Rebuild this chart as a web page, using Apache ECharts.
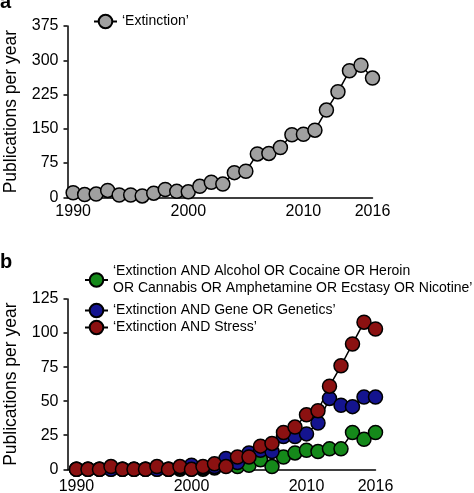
<!DOCTYPE html>
<html>
<head>
<meta charset="utf-8">
<script src="https://cdn.jsdelivr.net/npm/echarts@6/dist/echarts.min.js"></script>
<style>
html,body{margin:0;padding:0;background:#fff;}
#c{width:474px;height:493px;}
</style>
</head>
<body>
<div id="c"></div>
<script>
// ---- data ----
var years = [1990,1991,1992,1993,1994,1995,1996,1997,1998,1999,2000,2001,2002,2003,2004,2005,2006,2007,2008,2009,2010,2011,2012,2013,2014,2015,2016];
var extinction = [10,6,7,15,5,5,3,9,17,13,12,24,33,29,54,57,95,96,109,137,138,147,191,231,277,289,261];
var drugs  = [0,0,0,0,0,0,0,0,0,0,0,0,1,3,2,3,7,2,9,12,14,13,15,15,27,22,27];
var gene   = [0,0,0,0,0,0,0,0,0,1,3,1,2,8,5,12,14,13,24,24,26,34,52,47,46,53,53];
var stress = [0,0,0,2,0,0,0,2,0,2,0,2,4,2,9,9,17,19,27,31,40,43,61,76,92,108,103];
var xTickLabels = [1990,2000,2010,2016];
var yTicksA = {min:0, max:375, interval:75};
var yTicksB = {min:0, max:125, interval:25};
var nameA = '\u2018Extinction\u2019';
var nameDrugs = '\u2018Extinction AND Alcohol OR Cocaine OR Heroin\nOR Cannabis OR Amphetamine OR Ecstasy OR Nicotine\u2019';
var nameGene = '\u2018Extinction AND Gene OR Genetics\u2019';
var nameStress = '\u2018Extinction AND Stress\u2019';

// ---- chart ----
var FONT = '"Liberation Sans", Arial, sans-serif';
function pairs(vals){ return years.map(function(y,i){ return [y, vals[i]]; }); }
function mkSeries(name, vals, color, idx){
  return {
    name: name, type: 'line', xAxisIndex: idx, yAxisIndex: idx,
    data: pairs(vals), symbol: 'circle', symbolSize: 14, clip: false,
    itemStyle: {color: color, borderColor: '#000', borderWidth: 1.5},
    lineStyle: {color: '#000', width: 1.5},
    emphasis: {disabled: true}, animation: false
  };
}
function xAxis(idx, min, max, margin){
  return {
    type: 'value', gridIndex: idx, min: min, max: max,
    axisLine: {show: true, lineStyle: {color: '#000', width: 1.5}},
    axisTick: {show: false}, splitLine: {show: false},
    axisLabel: {customValues: xTickLabels, color: '#000', fontSize: 16, fontFamily: FONT, margin: margin,
      formatter: function(v){ return String(Math.round(v)); }}
  };
}
function yAxis(idx, t){
  return {
    type: 'value', gridIndex: idx, min: t.min, max: t.max, interval: t.interval,
    axisLine: {show: true, lineStyle: {color: '#000', width: 1.5}},
    axisTick: {show: true, length: 4, lineStyle: {color: '#000', width: 1.5}},
    splitLine: {show: false},
    axisLabel: {color: '#000', fontSize: 16, fontFamily: FONT, margin: 9},
    name: 'Publications per year', nameLocation: 'middle', nameGap: 47,
    nameTextStyle: {color: '#000', fontSize: 17.5, fontFamily: FONT}
  };
}
var legendBase = {
  orient: 'vertical', itemWidth: 23, itemHeight: 17, itemGap: 0,
  textStyle: {color: '#000', fontSize: 14, fontFamily: FONT, lineHeight: 17},
  selectedMode: false
};
function legend(name, left, top){
  var l = Object.assign({}, legendBase);
  l.data = [name]; l.left = left; l.top = top;
  return l;
}
var chart = echarts.init(document.getElementById('c'), null, {renderer: 'canvas'});
chart.setOption({
  backgroundColor: '#fff',
  animation: false,
  grid: [
    {left: 67.5, top: 26, width: 305, height: 171.3, outerBoundsMode: 'none', containLabel: false},
    {left: 67.5, top: 299, width: 308, height: 170.3, outerBoundsMode: 'none', containLabel: false}
  ],
  xAxis: [xAxis(0, 1989.51, 2016, 6), xAxis(1, 1989.22, 2016, 9)],
  yAxis: [yAxis(0, yTicksA), yAxis(1, yTicksB)],
  legend: [
    legend(nameA, 88, 8),
    legend(nameDrugs, 79, 258),
    legend(nameGene, 79, 297),
    legend(nameStress, 79, 314)
  ],
  graphic: [
    {type: 'text', left: 0, top: -8, style: {text: 'a', fontSize: 20, fontWeight: 'bold', fontFamily: FONT, fill: '#000'}},
    {type: 'text', left: 0, top: 252, style: {text: 'b', fontSize: 20, fontWeight: 'bold', fontFamily: FONT, fill: '#000'}}
  ],
  series: [
    mkSeries(nameA, extinction, '#a0a0a0', 0),
    mkSeries(nameDrugs, drugs, '#15891a', 1),
    mkSeries(nameGene, gene, '#14148f', 1),
    mkSeries(nameStress, stress, '#8b1111', 1)
  ]
});
</script>
</body>
</html>
